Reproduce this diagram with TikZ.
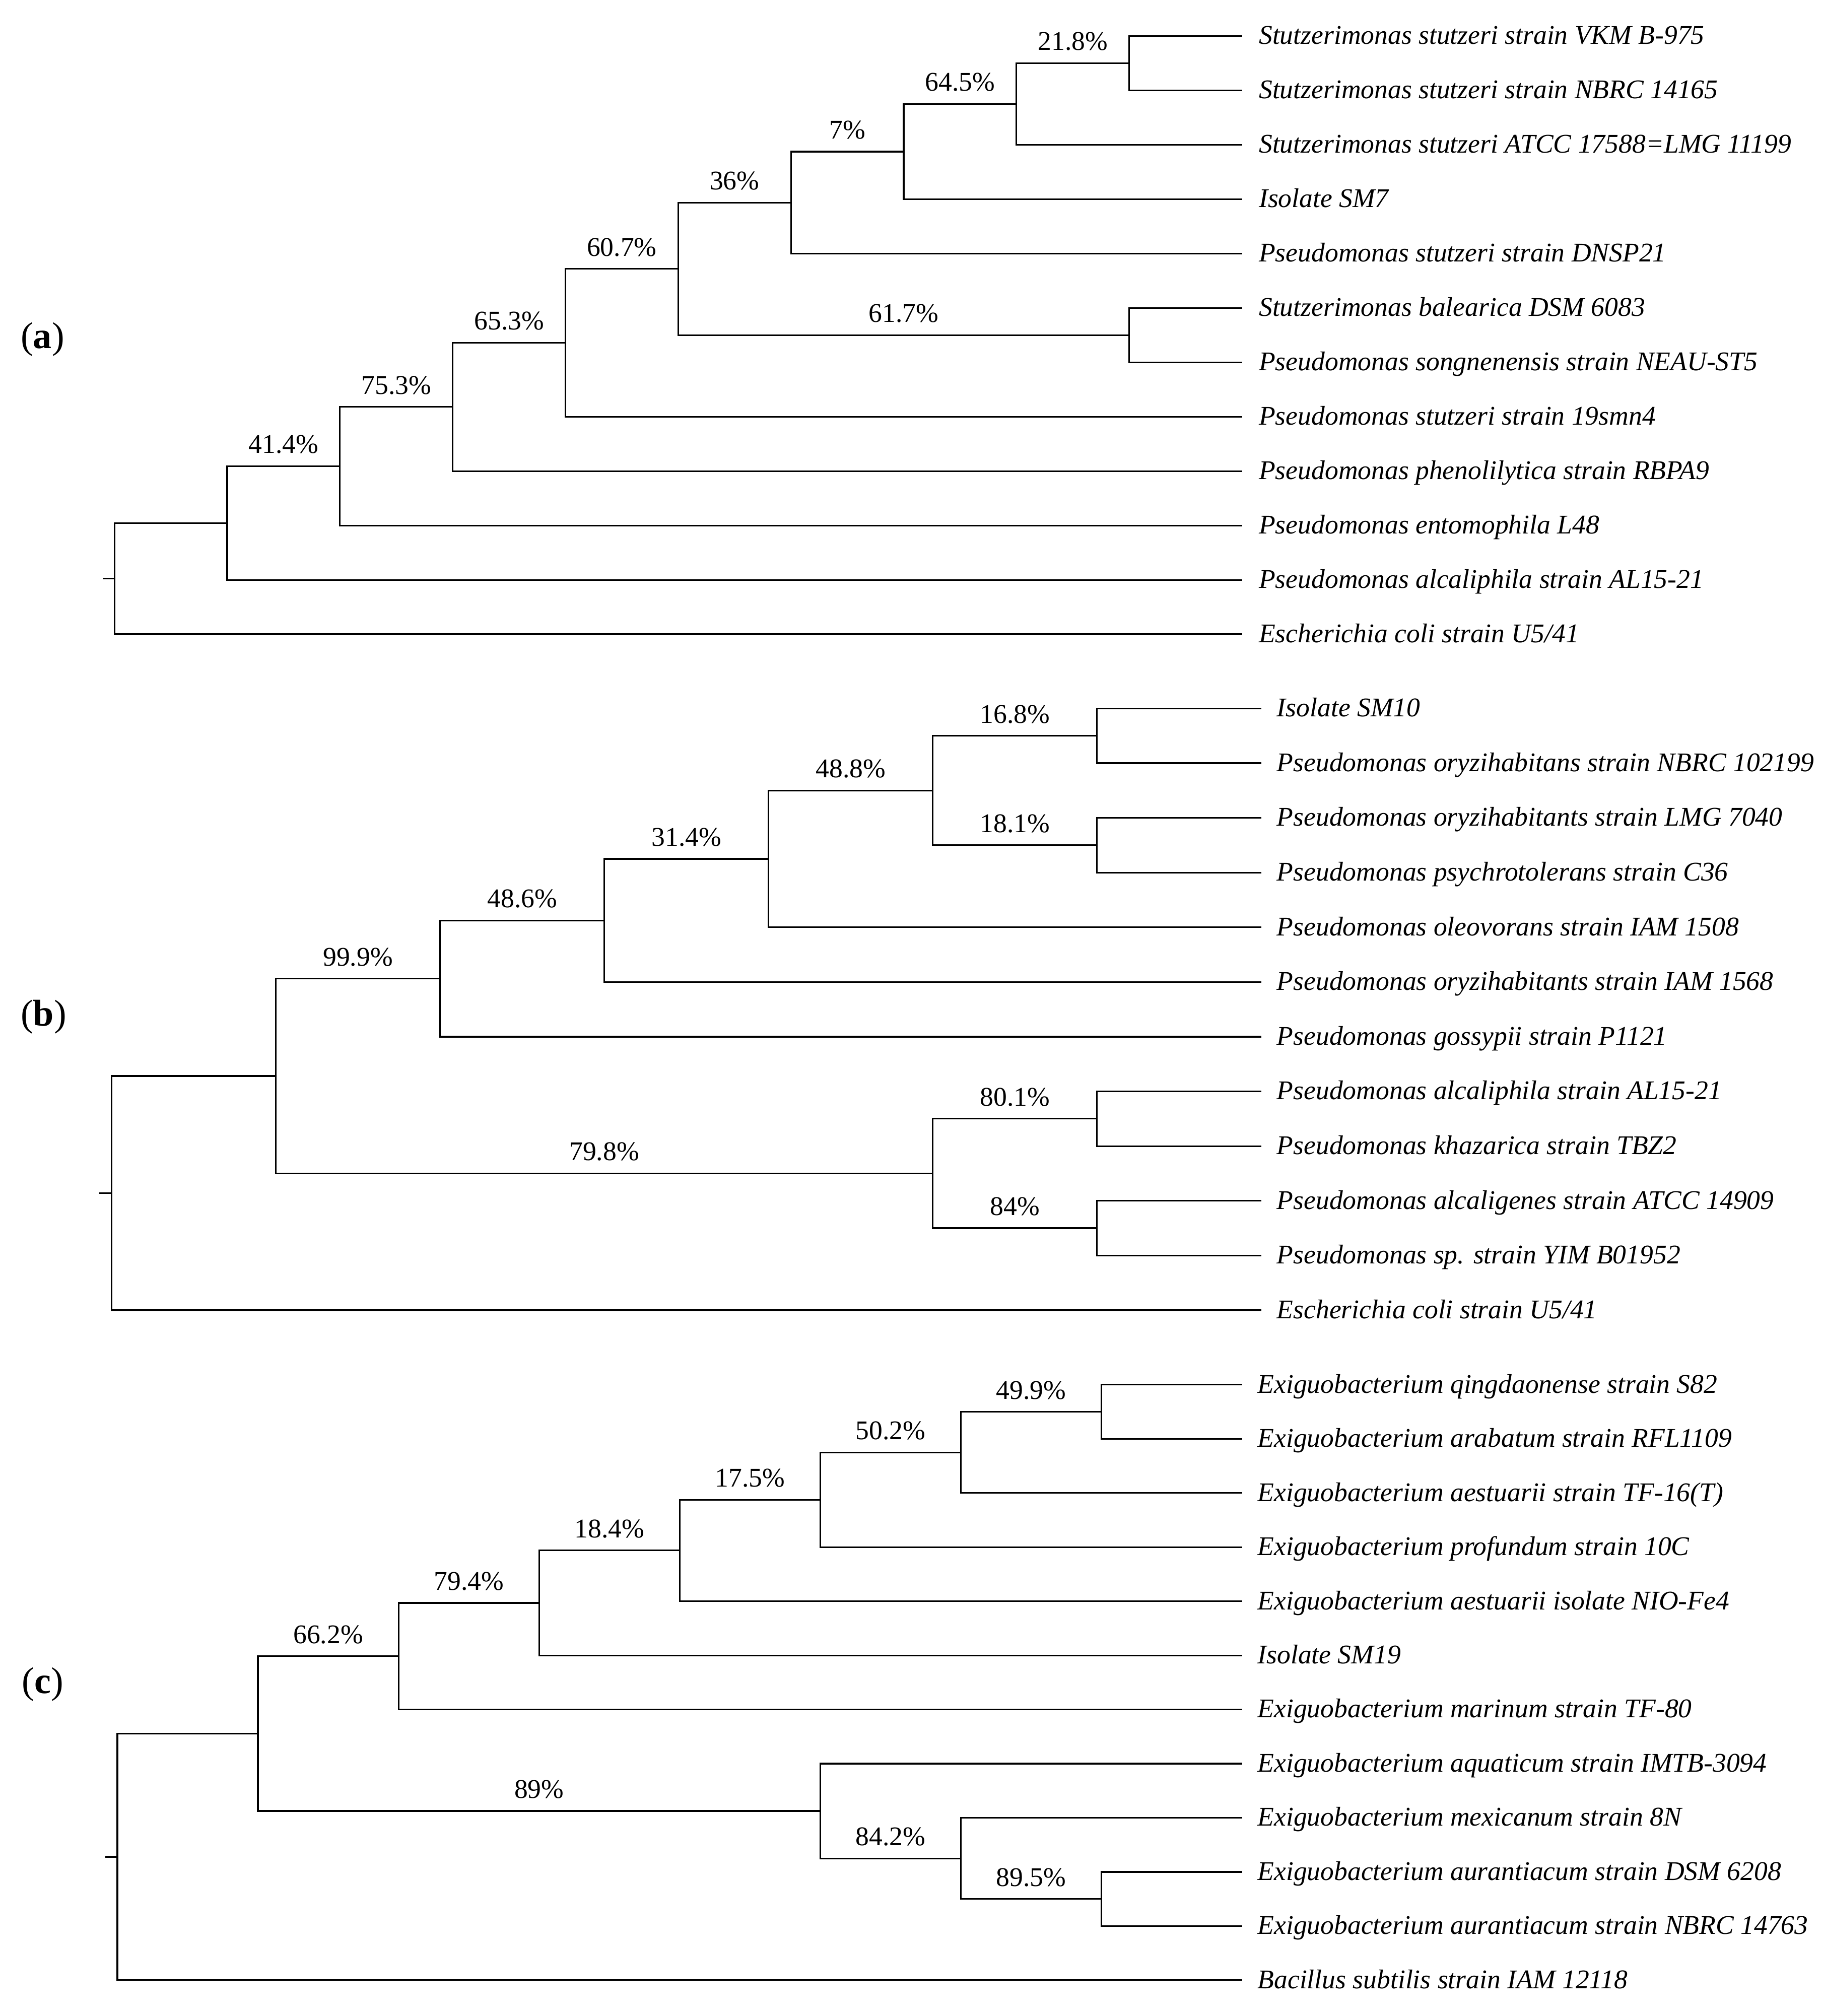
\documentclass[tikz,border=0pt]{standalone}
\usepackage{fontspec}
\setmainfont{Liberation Serif}
\begin{document}
\begin{tikzpicture}[x=1pt,y=-1pt,
 br/.style={line width=1.25pt},
 leaf/.style={anchor=base west,inner sep=0pt,font=\fontsize{21}{25}\selectfont\itshape},
 pct/.style={anchor=base,inner sep=0pt,font=\fontsize{21}{25}\selectfont},
 panel/.style={anchor=base west,inner sep=0pt,font=\fontsize{29}{34}\selectfont}]
\useasboundingbox (0,0) rectangle (1417,1568);

% ================= panel (a) =================
\node[panel] (pa) at (16,271) {(\textbf{a})};
\coordinate (a1) at (966,28);
\coordinate (a2) at (966,70.3);
\coordinate (a3) at (966,112.6);
\coordinate (a4) at (966,154.9);
\coordinate (a5) at (966,197.2);
\coordinate (a6) at (966,239.5);
\coordinate (a7) at (966,281.8);
\coordinate (a8) at (966,324.1);
\coordinate (a9) at (966,366.4);
\coordinate (a10) at (966,408.7);
\coordinate (a11) at (966,451);
\coordinate (a12) at (966,493.3);
\coordinate (n21) at (878.3,49.15);
\coordinate (n64) at (790.6,80.9);
\coordinate (n7) at (702.9,117.9);
\coordinate (n36) at (615.2,157.55);
\coordinate (n61) at (878.3,260.65);
\coordinate (n60) at (527.5,209.1);
\coordinate (n65) at (439.8,266.6);
\coordinate (n75) at (352.1,316.5);
\coordinate (n41) at (264.4,362.6);
\coordinate (aX) at (176.7,406.8);
\coordinate (aR) at (89,450.05);
\coordinate (aT) at (80,450.05);

\draw[br] (a1) -| (n21) |- (a2);
\draw[br] (n21) -| (n64) |- (a3);
\draw[br] (n64) -| (n7) |- (a4);
\draw[br] (n7) -| (n36) |- (a5);
\draw[br] (a6) -| (n61) |- (a7);
\draw[br] (n36) -| (n60) |- (n61);
\draw[br] (n60) -| (n65) |- (a8);
\draw[br] (n65) -| (n75) |- (a9);
\draw[br] (n75) -| (n41) |- (a10);
\draw[br] (n41) -| (aX) |- (a11);
\draw[br] (aX) -| (aR) |- (a12);
\draw[br] (aR) -- (aT);

\node[pct] (pa21) at (834.5,39.15) {21.8\%};
\node[pct] (pa64) at (746.7,70.9) {64.5\%};
\node[pct] (pa7) at (659,107.9) {7\%};
\node[pct] (pa36) at (571.3,147.55) {36\%};
\node[pct] (pa61) at (702.9,250.65) {61.7\%};
\node[pct] (pa60) at (483.6,199.1) {60.7\%};
\node[pct] (pa65) at (396,256.6) {65.3\%};
\node[pct] (pa75) at (308.2,306.5) {75.3\%};
\node[pct] (pa41) at (220.5,352.6) {41.4\%};

\node[leaf] (ta1) at ([xshift=13pt,yshift=-6.4pt]a1) {Stutzerimonas stutzeri strain VKM B-975};
\node[leaf] (ta2) at ([xshift=13pt,yshift=-6.4pt]a2) {Stutzerimonas stutzeri strain NBRC 14165};
\node[leaf] (ta3) at ([xshift=13pt,yshift=-6.4pt]a3) {Stutzerimonas stutzeri ATCC 17588=LMG 11199};
\node[leaf] (ta4) at ([xshift=13pt,yshift=-6.4pt]a4) {Isolate SM7};
\node[leaf] (ta5) at ([xshift=13pt,yshift=-6.4pt]a5) {Pseudomonas stutzeri strain DNSP21};
\node[leaf] (ta6) at ([xshift=13pt,yshift=-6.4pt]a6) {Stutzerimonas balearica DSM 6083};
\node[leaf] (ta7) at ([xshift=13pt,yshift=-6.4pt]a7) {Pseudomonas songnenensis strain NEAU-ST5};
\node[leaf] (ta8) at ([xshift=13pt,yshift=-6.4pt]a8) {Pseudomonas stutzeri strain 19smn4};
\node[leaf] (ta9) at ([xshift=13pt,yshift=-6.4pt]a9) {Pseudomonas phenolilytica strain RBPA9};
\node[leaf] (ta10) at ([xshift=13pt,yshift=-6.4pt]a10) {Pseudomonas entomophila L48};
\node[leaf] (ta11) at ([xshift=13pt,yshift=-6.4pt]a11) {Pseudomonas alcaliphila strain AL15-21};
\node[leaf] (ta12) at ([xshift=13pt,yshift=-6.4pt]a12) {Escherichia coli strain U5/41};

% ================= panel (b) =================
\node[panel] (pb) at (16,798) {(\textbf{b})};
\coordinate (b1) at (981,551);
\coordinate (b2) at (981,593.55);
\coordinate (b3) at (981,636.1);
\coordinate (b4) at (981,678.65);
\coordinate (b5) at (981,721.2);
\coordinate (b6) at (981,763.75);
\coordinate (b7) at (981,806.3);
\coordinate (b8) at (981,848.85);
\coordinate (b9) at (981,891.4);
\coordinate (b10) at (981,933.95);
\coordinate (b11) at (981,976.5);
\coordinate (b12) at (981,1019.05);
\coordinate (bA) at (853.2,572.3);
\coordinate (bB) at (853.2,657.4);
\coordinate (bC) at (725.5,614.85);
\coordinate (bD) at (597.8,668.0);
\coordinate (bE) at (470.0,715.9);
\coordinate (bF) at (342.3,761.1);
\coordinate (bG) at (853.2,870.1);
\coordinate (bH) at (853.2,955.2);
\coordinate (bI) at (725.5,912.65);
\coordinate (bJ) at (214.5,836.9);
\coordinate (bR) at (86.8,928);
\coordinate (bT) at (77,928);

\draw[br] (b1) -| (bA) |- (b2);
\draw[br] (b3) -| (bB) |- (b4);
\draw[br] (bA) -| (bC) |- (bB);
\draw[br] (bC) -| (bD) |- (b5);
\draw[br] (bD) -| (bE) |- (b6);
\draw[br] (bE) -| (bF) |- (b7);
\draw[br] (b8) -| (bG) |- (b9);
\draw[br] (b10) -| (bH) |- (b11);
\draw[br] (bG) -| (bI) |- (bH);
\draw[br] (bF) -| (bJ) |- (bI);
\draw[br] (bJ) -| (bR) |- (b12);
\draw[br] (bR) -- (bT);

\node[pct] (pbA) at (789.4,562.3) {16.8\%};
\node[pct] (pbB) at (789.4,647.4) {18.1\%};
\node[pct] (pbC) at (661.7,604.85) {48.8\%};
\node[pct] (pbD) at (533.9,658.0) {31.4\%};
\node[pct] (pbE) at (406.2,705.9) {48.6\%};
\node[pct] (pbF) at (278.4,751.1) {99.9\%};
\node[pct] (pbG) at (789.4,860.1) {80.1\%};
\node[pct] (pbH) at (789.4,945.2) {84\%};
\node[pct] (pbI) at (470,902.65) {79.8\%};

\node[leaf] (tb1) at ([xshift=12pt,yshift=-6.4pt]b1) {Isolate SM10};
\node[leaf] (tb2) at ([xshift=12pt,yshift=-6.4pt]b2) {Pseudomonas oryzihabitans strain NBRC 102199};
\node[leaf] (tb3) at ([xshift=12pt,yshift=-6.4pt]b3) {Pseudomonas oryzihabitants strain LMG 7040};
\node[leaf] (tb4) at ([xshift=12pt,yshift=-6.4pt]b4) {Pseudomonas psychrotolerans strain C36};
\node[leaf] (tb5) at ([xshift=12pt,yshift=-6.4pt]b5) {Pseudomonas oleovorans strain IAM 1508};
\node[leaf] (tb6) at ([xshift=12pt,yshift=-6.4pt]b6) {Pseudomonas oryzihabitants strain IAM 1568};
\node[leaf] (tb7) at ([xshift=12pt,yshift=-6.4pt]b7) {Pseudomonas gossypii strain P1121};
\node[leaf] (tb8) at ([xshift=12pt,yshift=-6.4pt]b8) {Pseudomonas alcaliphila strain AL15-21};
\node[leaf] (tb9) at ([xshift=12pt,yshift=-6.4pt]b9) {Pseudomonas khazarica strain TBZ2};
\node[leaf] (tb10) at ([xshift=12pt,yshift=-6.4pt]b10) {Pseudomonas alcaligenes strain ATCC 14909};
\node[leaf] (tb11) at ([xshift=12pt,yshift=-6.4pt]b11) {Pseudomonas sp. strain YIM B01952};
\node[leaf] (tb12) at ([xshift=12pt,yshift=-6.4pt]b12) {Escherichia coli strain U5/41};

% ================= panel (c) =================
\node[panel] (pc) at (17,1317) {(\textbf{c})};
\coordinate (c1) at (966,1077);
\coordinate (c2) at (966,1119.1);
\coordinate (c3) at (966,1161.2);
\coordinate (c4) at (966,1203.3);
\coordinate (c5) at (966,1245.4);
\coordinate (c6) at (966,1287.5);
\coordinate (c7) at (966,1329.6);
\coordinate (c8) at (966,1371.7);
\coordinate (c9) at (966,1413.8);
\coordinate (c10) at (966,1455.9);
\coordinate (c11) at (966,1498);
\coordinate (c12) at (966,1540.1);
\coordinate (cP) at (856.7,1098.05);
\coordinate (cQ) at (747.3,1129.6);
\coordinate (cR) at (638.0,1166.45);
\coordinate (cS) at (528.7,1205.9);
\coordinate (cT) at (419.3,1246.7);
\coordinate (cU) at (310.0,1288.15);
\coordinate (cV) at (856.7,1476.95);
\coordinate (cW) at (747.3,1445.4);
\coordinate (cX) at (638.0,1408.55);
\coordinate (cY) at (200.6,1348.35);
\coordinate (cRt) at (91.3,1444.2);
\coordinate (cTk) at (82,1444.2);

\draw[br] (c1) -| (cP) |- (c2);
\draw[br] (cP) -| (cQ) |- (c3);
\draw[br] (cQ) -| (cR) |- (c4);
\draw[br] (cR) -| (cS) |- (c5);
\draw[br] (cS) -| (cT) |- (c6);
\draw[br] (cT) -| (cU) |- (c7);
\draw[br] (c10) -| (cV) |- (c11);
\draw[br] (c9) -| (cW) |- (cV);
\draw[br] (c8) -| (cX) |- (cW);
\draw[br] (cU) -| (cY) |- (cX);
\draw[br] (cY) -| (cRt) |- (c12);
\draw[br] (cRt) -- (cTk);

\node[pct] (pcP) at (802,1088.05) {49.9\%};
\node[pct] (pcQ) at (692.65,1119.6) {50.2\%};
\node[pct] (pcR) at (583.35,1156.45) {17.5\%};
\node[pct] (pcS) at (474,1195.9) {18.4\%};
\node[pct] (pcT) at (364.65,1236.7) {79.4\%};
\node[pct] (pcU) at (255.3,1278.15) {66.2\%};
\node[pct] (pcV) at (802,1466.95) {89.5\%};
\node[pct] (pcW) at (692.65,1435.4) {84.2\%};
\node[pct] (pcX) at (419.3,1398.55) {89\%};

\node[leaf] (tc1) at ([xshift=12pt,yshift=-6.4pt]c1) {Exiguobacterium qingdaonense strain S82};
\node[leaf] (tc2) at ([xshift=12pt,yshift=-6.4pt]c2) {Exiguobacterium arabatum strain RFL1109};
\node[leaf] (tc3) at ([xshift=12pt,yshift=-6.4pt]c3) {Exiguobacterium aestuarii strain TF-16(T)};
\node[leaf] (tc4) at ([xshift=12pt,yshift=-6.4pt]c4) {Exiguobacterium profundum strain 10C};
\node[leaf] (tc5) at ([xshift=12pt,yshift=-6.4pt]c5) {Exiguobacterium aestuarii isolate NIO-Fe4};
\node[leaf] (tc6) at ([xshift=12pt,yshift=-6.4pt]c6) {Isolate SM19};
\node[leaf] (tc7) at ([xshift=12pt,yshift=-6.4pt]c7) {Exiguobacterium marinum strain TF-80};
\node[leaf] (tc8) at ([xshift=12pt,yshift=-6.4pt]c8) {Exiguobacterium aquaticum strain IMTB-3094};
\node[leaf] (tc9) at ([xshift=12pt,yshift=-6.4pt]c9) {Exiguobacterium mexicanum strain 8N};
\node[leaf] (tc10) at ([xshift=12pt,yshift=-6.4pt]c10) {Exiguobacterium aurantiacum strain DSM 6208};
\node[leaf] (tc11) at ([xshift=12pt,yshift=-6.4pt]c11) {Exiguobacterium aurantiacum strain NBRC 14763};
\node[leaf] (tc12) at ([xshift=12pt,yshift=-6.4pt]c12) {Bacillus subtilis strain IAM 12118};
\end{tikzpicture}
\end{document}
